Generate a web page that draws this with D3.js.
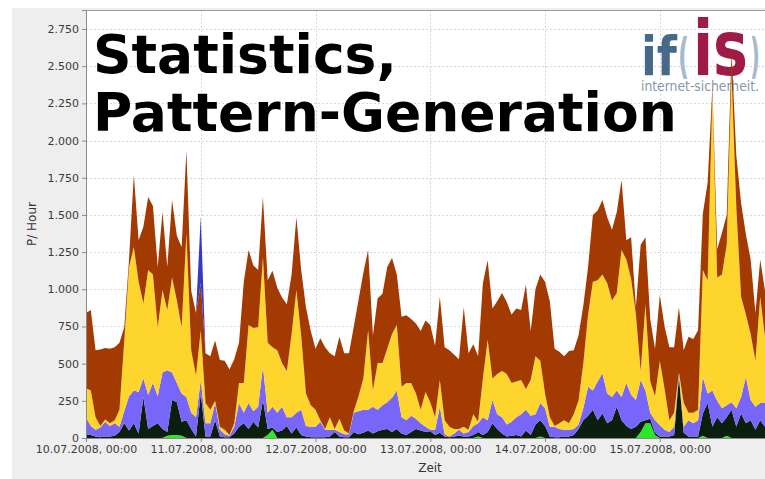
<!DOCTYPE html>
<html>
<head>
<meta charset="utf-8">
<script src="https://cdn.jsdelivr.net/npm/d3@7"></script>
<style>
  body { margin: 0; background: #fff; }
  text { font-family: "DejaVu Sans", sans-serif; }
</style>
</head>
<body>
<script>
// hourly values from 10.07.2008 00:00, one row per day
const green = [
  0,0,0,0,0,0,0,0,0,0,0,0,0,0,0,0,0,15,20,20,15,0,0,0,
  0,0,0,0,0,0,0,0,0,0,0,0,0,0,20,55,0,0,0,0,0,0,0,0,
  0,0,0,0,0,0,0,0,0,0,0,0,0,0,0,0,0,0,0,0,0,0,0,0,
  0,0,0,0,0,0,0,0,0,0,10,0,0,0,0,0,0,0,0,0,0,0,0,10,
  0,0,0,0,0,0,0,0,0,0,0,0,0,0,0,0,0,0,0,0,40,100,100,20,
  0,0,0,0,0,0,0,0,0,15,0,0,0,0,15,0,0,0,0,0,0,0,0
]
const black = [
  25,20,10,5,10,10,15,40,100,50,100,30,275,60,80,100,60,25,235,220,95,120,60,10,
  300,10,10,120,10,5,5,30,75,100,60,110,70,255,40,15,40,50,80,30,70,20,10,5,
  5,5,5,10,40,10,5,5,40,25,35,50,30,45,55,60,40,60,30,20,40,60,50,40,
  45,20,35,10,5,10,15,10,10,20,30,20,40,100,60,30,10,15,20,10,50,20,90,110,
  80,10,5,5,10,10,20,60,120,150,190,120,165,100,120,210,120,80,60,75,70,20,30,15,
  10,10,10,20,410,35,10,10,10,150,235,75,140,100,125,190,75,165,100,120,55,120,75
]
const purple = [
  115,60,45,65,100,70,85,35,80,230,220,280,125,230,290,180,380,415,185,130,190,155,110,130,
  90,90,90,115,45,20,10,45,160,70,175,70,140,225,110,140,130,160,60,110,100,170,70,70,
  70,105,50,45,15,30,20,20,130,155,155,140,180,145,165,180,230,260,110,100,110,70,50,35,
  10,35,175,15,5,20,40,20,30,60,60,120,80,155,100,110,80,95,120,150,140,130,70,115,
  120,65,70,55,45,45,40,30,80,195,130,260,270,200,155,110,155,290,230,180,280,200,40,85,
  75,45,30,55,25,40,110,90,110,245,65,245,110,100,80,50,125,110,310,135,155,115,160
]
const yellow = [
  195,240,85,10,15,20,20,115,470,870,965,740,505,840,730,465,555,405,640,555,445,1100,420,280,
  335,135,90,15,20,30,5,25,135,200,525,560,535,735,470,400,420,295,310,560,825,500,220,145,
  115,10,5,85,5,90,25,5,10,100,210,535,110,315,285,360,430,440,205,250,220,170,90,235,
  185,85,180,95,65,30,5,45,15,80,10,260,540,145,270,310,340,260,240,230,140,240,390,285,
  100,65,5,40,65,45,100,160,300,485,730,680,665,740,650,655,990,830,780,575,60,580,210,160,
  435,275,80,95,5,160,50,70,70,720,760,2000,830,900,1080,2210,1350,675,420,445,310,715,445
]
const brown = [
  505,540,450,515,480,500,490,450,95,50,485,280,515,490,460,405,525,290,520,435,540,560,400,420,
  315,335,360,405,450,465,440,430,270,680,505,420,385,405,420,515,420,440,450,400,490,440,580,500,
  410,550,550,430,490,550,520,540,570,650,710,540,370,435,465,550,510,340,470,455,430,470,530,480,
  520,480,560,490,515,500,470,805,515,470,440,640,535,470,490,525,485,460,490,470,700,330,450,580,
  750,780,520,480,430,485,430,440,390,320,450,470,500,445,475,545,470,130,280,50,850,450,420,320,
  440,420,490,440,440,355,510,495,535,380,655,40,190,280,200,150,350,630,540,500,320,250,310
]
const blue = [
  0,0,0,0,0,0,0,0,0,0,0,0,0,0,0,0,0,0,0,0,0,0,0,0,
  450,0,0,0,0,0,0,0,0,0,0,0,0,0,0,0,0,0,0,0,0,0,0,0,
  0,0,0,0,0,0,0,0,0,0,0,0,0,0,0,0,0,0,0,0,0,0,0,0,
  0,0,0,0,0,0,0,0,0,0,0,0,0,0,0,0,0,0,0,0,0,0,0,0,
  0,0,0,0,0,0,0,0,0,0,0,0,0,0,0,0,0,0,0,0,0,0,0,0,
  0,0,0,0,0,0,0,0,0,0,0,0,0,0,0,0,0,0,0,0,0,0,0
]
const yTicks = [0,250,500,750,1000,1250,1500,1750,2000,2250,2500,2750]

const keys = ['green','black','purple','yellow','brown','blue']
const colors = {green:'#2be82b', black:'#0c1e0e', purple:'#7866fa', yellow:'#fdd52c', brown:'#a33a02', blue:'#3838c8'}

const start = new Date(Date.UTC(2008, 6, 10))
const rows = green.map((g, i) => ({
  date: d3.utcHour.offset(start, i),
  green: g, black: black[i], purple: purple[i], yellow: yellow[i], brown: brown[i], blue: blue[i]
}))

const W = 765, H = 479
const plot = {left: 86, top: 10, right: 765, bottom: 438}

const svg = d3.select('body').append('svg')
  .attr('width', W).attr('height', H)

svg.append('rect').attr('x', 12).attr('y', 8).attr('width', W - 12).attr('height', H - 8).attr('fill', '#eeeeee')
svg.append('rect').attr('x', plot.left).attr('y', plot.top)
  .attr('width', plot.right - plot.left).attr('height', plot.bottom - plot.top).attr('fill', '#fff')

const x = d3.scaleUtc()
  .domain([start, d3.utcHour.offset(start, 142)])
  .range([plot.left, plot.right])
const y = d3.scaleLinear()
  .domain([0, 2878])
  .range([plot.bottom, plot.top])

const de = d3.formatLocale({decimal: ',', thousands: '.', grouping: [3], currency: ['', '€']})
const fmtY = de.format(',')
const fmtX = d3.utcFormat('%d.%m.%Y, %H:%M')
const days = d3.utcDay.range(start, d3.utcHour.offset(start, 142))

// grid
const grid = svg.append('g').attr('stroke', '#d6d6d6').attr('stroke-dasharray', '2,2')
grid.selectAll('.hg').data(yTicks.slice(1)).enter().append('line')
  .attr('x1', plot.left).attr('x2', plot.right)
  .attr('y1', d => Math.round(y(d)) + 0.5).attr('y2', d => Math.round(y(d)) + 0.5)
grid.selectAll('.vg').data(days.slice(1)).enter().append('line')
  .attr('y1', plot.top).attr('y2', plot.bottom)
  .attr('x1', d => Math.round(x(d)) + 0.5).attr('x2', d => Math.round(x(d)) + 0.5)

// logo sits behind the data, one text element
const logo = svg.append('text').attr('font-family', 'Liberation Sans').attr('font-weight', 'bold')
logo.append('tspan').attr('x', 641).attr('y', 75).attr('font-size', 54).attr('fill', '#46698a')
  .attr('textLength', 36).attr('lengthAdjust', 'spacingAndGlyphs').text('if')
logo.append('tspan').attr('x', 678).attr('y', 73).attr('font-size', 48).attr('fill', '#a6bace')
  .attr('textLength', 11).attr('lengthAdjust', 'spacingAndGlyphs').text('(')
logo.append('tspan').attr('x', 693).attr('y', 75).attr('font-size', 76).attr('fill', '#a01a48')
  .attr('textLength', 55).attr('lengthAdjust', 'spacingAndGlyphs').text('is')
logo.append('tspan').attr('x', 750).attr('y', 73).attr('font-size', 48).attr('fill', '#a6bace')
  .attr('textLength', 10).attr('lengthAdjust', 'spacingAndGlyphs').text(')')
logo.append('tspan').attr('x', 641).attr('y', 91).attr('font-size', 14).attr('font-weight', 'normal')
  .attr('fill', '#8797a8').attr('textLength', 118).attr('lengthAdjust', 'spacingAndGlyphs')
  .text('internet-sicherheit.')

// stacked areas
const series = d3.stack().keys(keys)(rows)
const area = d3.area()
  .x(d => x(d.data.date))
  .y0(d => y(d[0]))
  .y1(d => y(d[1]))
svg.append('defs').append('clipPath').attr('id', 'clip')
  .append('rect').attr('x', plot.left).attr('y', plot.top)
  .attr('width', plot.right - plot.left).attr('height', plot.bottom - plot.top)
svg.append('g').attr('clip-path', 'url(#clip)')
  .selectAll('path').data(series).enter().append('path')
  .attr('d', area)
  .attr('fill', d => colors[d.key])

// axes
const yAxis = svg.append('g')
  .attr('transform', `translate(${plot.left},0)`)
  .call(d3.axisLeft(y).tickValues(yTicks).tickFormat(fmtY).tickSize(4).tickPadding(3))
const xAxis = svg.append('g')
  .attr('transform', `translate(0,${plot.bottom})`)
  .call(d3.axisBottom(x).tickValues(days).tickFormat(fmtX).tickSize(4).tickPadding(3))
for (const ax of [yAxis, xAxis]) {
  ax.select('.domain').attr('stroke', '#8a8a8a')
  ax.selectAll('.tick line').attr('stroke', '#8a8a8a')
  ax.selectAll('.tick text').attr('fill', '#3a3a3a').attr('font-size', 11).attr('font-family', 'DejaVu Sans')
}
svg.append('line').attr('x1', plot.left).attr('x2', plot.right)
  .attr('y1', plot.top + 0.5).attr('y2', plot.top + 0.5).attr('stroke', '#9a9a9a')

svg.append('text').attr('transform', `translate(36,${(plot.top + plot.bottom) / 2}) rotate(-90)`)
  .attr('text-anchor', 'middle').attr('font-size', 12).attr('fill', '#333').text('P/ Hour')
svg.append('text').attr('x', 430).attr('y', 472)
  .attr('text-anchor', 'middle').attr('font-size', 12).attr('fill', '#333').text('Zeit')

// big overlay title
const title = svg.append('text').attr('font-weight', 'bold').attr('font-size', 53.5).attr('fill', '#000')
title.append('tspan').attr('x', 93).attr('y', 73).text('Statistics,')
title.append('tspan').attr('x', 93).attr('y', 131).text('Pattern-Generation')
</script>
</body>
</html>
